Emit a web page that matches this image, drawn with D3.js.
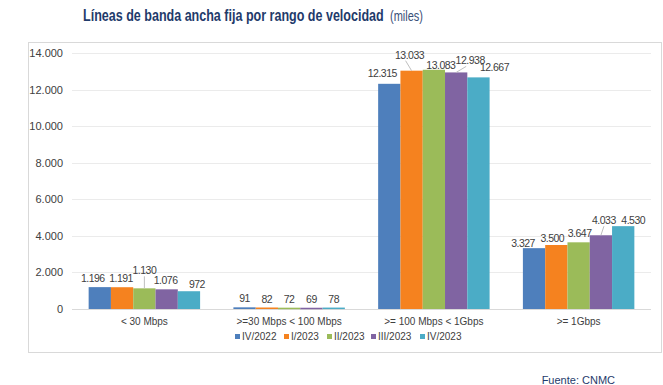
<!DOCTYPE html>
<html>
<head>
<meta charset="utf-8">
<script src="https://cdn.jsdelivr.net/npm/d3@7"></script>
<style>
  body { margin: 0; background: #fff; font-family: "Liberation Sans", Arial, sans-serif; }
</style>
</head>
<body>
<div id="chart"></div>
<script>
var categories = ["< 30 Mbps", ">=30 Mbps < 100 Mbps", ">= 100 Mbps < 1Gbps", ">= 1Gbps"];
var series = ["IV/2022", "I/2023", "II/2023", "III/2023", "IV/2023"];
var colors = ["#4e7fbc", "#f5821f", "#9bbb59", "#8064a2", "#4bacc6"];
var values = [
  [1196, 1191, 1130, 1076, 972],
  [91, 82, 72, 69, 78],
  [12315, 13033, 13083, 12938, 12667],
  [3327, 3500, 3647, 4033, 4530]
];
var labels = [
  ["1.196", "1.191", "1.130", "1.076", "972"],
  ["91", "82", "72", "69", "78"],
  ["12.315", "13.033", "13.083", "12.938", "12.667"],
  ["3.327", "3.500", "3.647", "4.033", "4.530"]
];
var yTicks = [0, 2000, 4000, 6000, 8000, 10000, 12000, 14000];
var yTickLabels = ["0", "2.000", "4.000", "6.000", "8.000", "10.000", "12.000", "14.000"];

// label nudges (dx, lift above bar) as excel placed them to avoid overlaps
var labelDx = [
  [-7, -1, 0, -1, 8],
  [0, 0, 0, 0, 0],
  [-7, -2, 7, 14, 16],
  [-11, -4, 1, 3, 10]
];
var labelLift = [
  [5, 5, 14, 5, 3],
  [5, 5, 5, 5, 5],
  [7, 12, 1, 8, 6],
  [1, 3, 5, 11, 2]
];
var leaders = [
  [0, 0, 1, 0, 0],
  [0, 0, 0, 0, 0],
  [0, 1, 0, 1, 0],
  [0, 0, 0, 1, 0]
];

var W = 663, H = 385;
var svg = d3.select("#chart").append("svg")
    .attr("width", W).attr("height", H);

// outer frame
svg.append("rect")
    .attr("x", 28.5).attr("y", 42.5)
    .attr("width", 633).attr("height", 310)
    .attr("fill", "#fff").attr("stroke", "#d9d9d9");

// title, squeezed horizontally like the narrow original font
function squeezed(x, yy, width, size, weight, color, txt) {
    var t = svg.append("text")
        .attr("font-size", size)
        .attr("font-weight", weight)
        .attr("fill", color)
        .text(txt);
    var w = t.node().getComputedTextLength();
    t.attr("transform", "translate(" + x + "," + yy + ") scale(" + (width / w) + ",1)");
}
squeezed(83, 21, 301, 17, "bold", "#1f3b6b", "Líneas de banda ancha fija por rango de velocidad");
squeezed(390, 21, 33, 15, "normal", "#3a4f78", "(miles)");

var x0 = d3.scaleBand().domain(categories).range([72, 651]).paddingInner(0.23).paddingOuter(0.115);
var x1 = d3.scaleBand().domain(series).range([0, x0.bandwidth()]);
var y = d3.scaleLinear().domain([0, 14000]).range([309, 53]);

// gridlines
svg.append("g").selectAll("line").data(yTicks).enter().append("line")
    .attr("x1", 72).attr("x2", 651)
    .attr("y1", function (d) { return Math.round(y(d)) + 0.5; })
    .attr("y2", function (d) { return Math.round(y(d)) + 0.5; })
    .attr("stroke", function (d) { return d === 0 ? "#d9d9d9" : "#ebebeb"; });

// y labels
svg.append("g").selectAll("text").data(yTicks).enter().append("text")
    .attr("x", 63)
    .attr("y", function (d) { return y(d) + 4; })
    .attr("text-anchor", "end")
    .attr("font-size", 11)
    .attr("fill", "#404040")
    .text(function (d, i) { return yTickLabels[i]; });

// bars
var groups = svg.append("g").selectAll("g").data(categories).enter().append("g")
    .attr("transform", function (d) { return "translate(" + x0(d) + ",0)"; });

groups.each(function (cat, ci) {
    var g = d3.select(this);
    series.forEach(function (s, si) {
        var v = values[ci][si];
        var bx = x1(s), bw = x1.bandwidth();
        var top = y(v);
        g.append("rect")
            .attr("x", bx).attr("width", bw)
            .attr("y", top).attr("height", Math.max(y(0) - top, 1.5))
            .attr("fill", colors[si]);
        var lx = bx + bw / 2 + labelDx[ci][si];
        var ly = top - labelLift[ci][si];
        if (leaders[ci][si]) {
            g.append("line")
                .attr("x1", bx + bw / 2).attr("x2", lx - (ci === 2 ? 4 : 0))
                .attr("y1", top).attr("y2", ly + 2)
                .attr("stroke", "#bfbfbf");
        }
        g.append("text")
            .attr("x", lx)
            .attr("y", ly)
            .attr("text-anchor", "middle")
            .attr("font-size", 10.5)
            .attr("letter-spacing", -0.5)
            .attr("fill", "#404040")
            .text(labels[ci][si]);
    });
    g.append("text")
        .attr("x", x0.bandwidth() / 2)
        .attr("y", 325)
        .attr("text-anchor", "middle")
        .attr("font-size", 10)
        .attr("fill", "#404040")
        .text(cat);
});

// legend
var legendX = [235, 284, 327, 371, 420];
var legend = svg.append("g").selectAll("g").data(series).enter().append("g")
    .attr("transform", function (d, i) { return "translate(" + legendX[i] + ",339)"; });
legend.append("rect")
    .attr("x", 0).attr("y", -5).attr("width", 5).attr("height", 5)
    .attr("fill", function (d, i) { return colors[i]; });
legend.append("text")
    .attr("x", 7).attr("y", 0.5)
    .attr("font-size", 10)
    .attr("fill", "#404040")
    .text(function (d) { return d; });

// source
svg.append("text")
    .attr("x", 615).attr("y", 384)
    .attr("text-anchor", "end")
    .attr("font-size", 11)
    .attr("fill", "#1f3b6b")
    .text("Fuente: CNMC");
</script>
</body>
</html>
